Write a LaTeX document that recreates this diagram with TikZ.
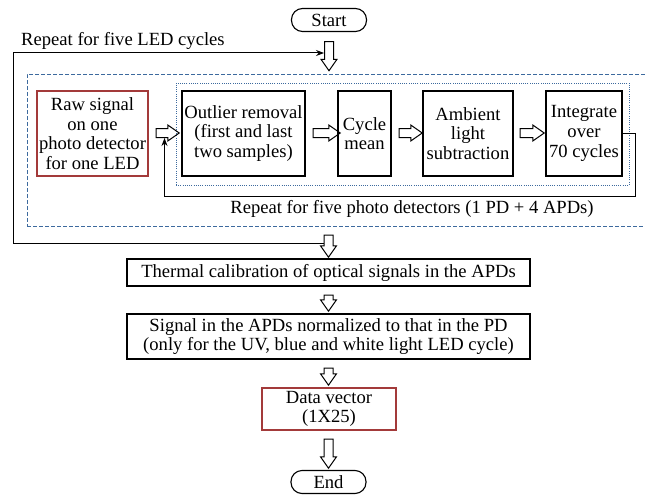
\documentclass[tikz,border=0pt]{standalone}
\usepackage{fontspec}
\setmainfont{Liberation Serif}
\usetikzlibrary{arrows.meta,shapes.arrows}
\definecolor{boxred}{HTML}{A33A3A}
\definecolor{loopblue}{HTML}{3D6A9E}

\begin{document}
\begin{tikzpicture}[x=1pt, y=-1pt,
    font=\fontsize{18.6}{19.6}\selectfont,
    box/.style={draw, line width=1.1pt, align=center, inner sep=0pt},
    redbox/.style={box, draw=boxred},
    term/.style={draw, line width=1.1pt, rounded corners=11pt, minimum width=75pt, minimum height=23pt, inner sep=0pt},
    harr/.style={draw, line width=1pt, single arrow, single arrow tip angle=70, single arrow head extend=3.5pt,
        inner xsep=0pt, inner ysep=4pt, minimum width=15pt, minimum height=#1},
    harr/.default=24pt,
    arr/.style={-{Stealth[length=8pt,width=6pt]}, line width=1pt}
]
\useasboundingbox (0,0) rectangle (645,495);

% loop frames
\node[draw=loopblue, line width=0.9pt, dash pattern=on 4pt off 2pt, minimum width=623pt, minimum height=152pt] (ledframe) at (338.5,150) {};
\node[draw=loopblue, line width=0.9pt, dash pattern=on 1pt off 1.2pt, minimum width=453pt, minimum height=102pt] (pdframe) at (402.5,134) {};

\node[term] (start) at (329,20) {Start};
\node[harr=29pt, rotate=-90] (a0) at (329,53) {};
\node[anchor=west, inner sep=0pt] (ledlbl) at (21,41) {Repeat for five LED cycles};

% processing row
\node[redbox, minimum width=111pt, minimum height=85pt] (raw) at (92.5,133.5) {Raw signal\\on one\\photo detector\\for one LED};
\node[box, minimum width=123pt, minimum height=85pt] (outl) at (243.5,133.5) {Outlier removal\\(first and last\\two samples)};
\node[box, minimum width=53pt, minimum height=85pt] (mean) at (364.5,133.5) {Cycle\\mean};
\node[box, minimum width=90pt, minimum height=85pt] (amb) at (468,133.5) {Ambient\\light\\subtraction};
\node[box, minimum width=76pt, minimum height=85pt] (integ) at (584,133.5) {Integrate\\over\\70 cycles};

\node[harr=23pt] (h1) at (164.5,133) {};
\node[harr=27pt] (h2) at (323.5,133) {};
\node[harr=23pt] (h3) at (407.5,133) {};
\node[harr=24pt] (h4) at (529,133) {};

\node[inner sep=0pt] (pdlbl) at (412,209) {Repeat for five photo detectors (1 PD + 4 APDs)};

% after the loops
\node[harr=22pt, rotate=-90] (a5) at (328.5,243) {};
\node[box, minimum width=403pt, minimum height=27pt] (therm) at (328.5,272.5) {Thermal calibration of optical signals in the APDs};
\node[harr=16pt, rotate=-90] (a6) at (328.5,300) {};
\node[box, minimum width=403pt, minimum height=45pt] (norm) at (328.5,336.5) {Signal in the APDs normalized to that in the PD\\(only for the UV, blue and white light LED cycle)};
\node[harr=17pt, rotate=-90] (a7) at (328.5,373.5) {};
\node[redbox, minimum width=134pt, minimum height=42pt] (data) at (329,409) {Data vector\\(1X25)};
\node[harr=29pt, rotate=-90] (a8) at (328.5,450.5) {};
\node[term] (end) at (328.5,482) {End};

% loop connectors
\coordinate (ledcorner) at (13,53);
\coordinate (fbtop) at (635,133.5);
\coordinate (fbbot) at (635,196);
\draw[arr] (a5) -| (ledcorner) -- (a0);
\draw[arr] (integ) -- (fbtop) -- (fbbot) -| (h1);
\end{tikzpicture}
\end{document}
